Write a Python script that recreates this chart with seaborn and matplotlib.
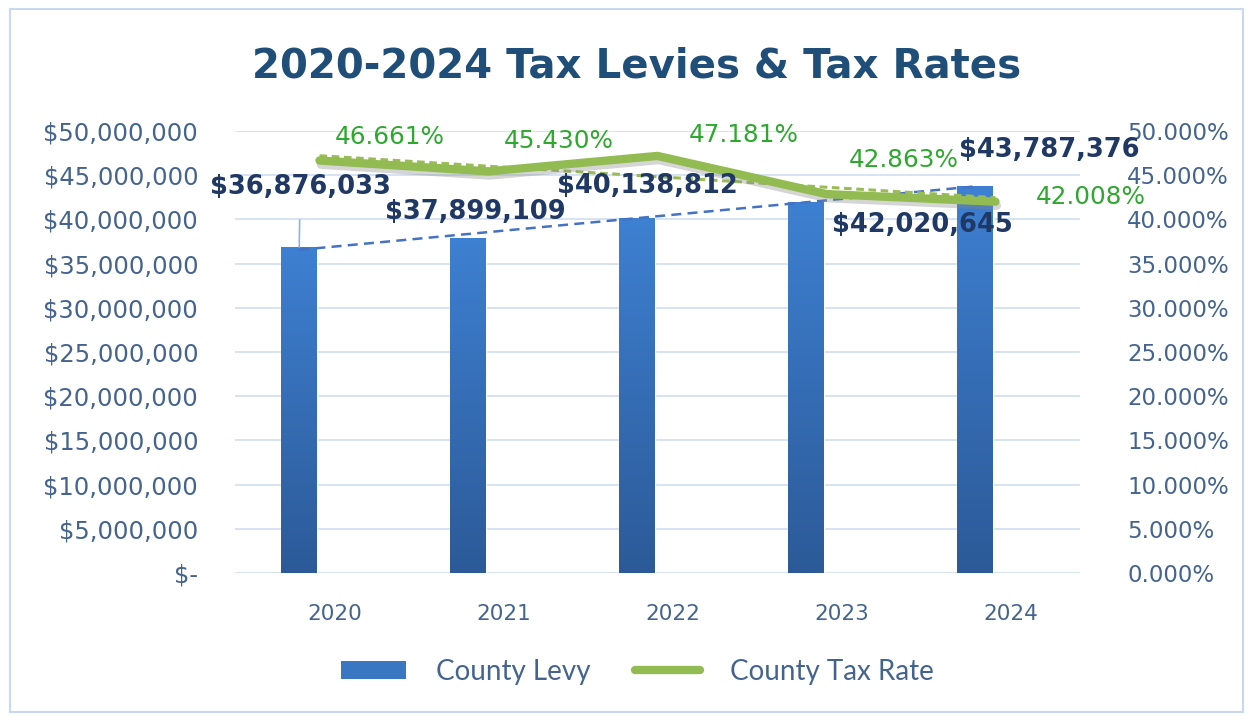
import numpy as np
import pandas as pd
import matplotlib
matplotlib.use("Agg")
import matplotlib.pyplot as plt
import matplotlib.patheffects as pe
import matplotlib.transforms as mtransforms
from matplotlib.patches import Patch, Rectangle
from matplotlib.lines import Line2D
from matplotlib.colors import LinearSegmentedColormap
import seaborn as sns

years = ["2020", "2021", "2022", "2023", "2024"]
levy = [36876033, 37899109, 40138812, 42020645, 43787376]
rate = [46.661, 45.430, 47.181, 42.863, 42.008]
levy_ticks = list(range(0, 50000001, 5000000))
rate_ticks = list(range(0, 51, 5))

sns.set_theme(style="white")
plt.rcParams["font.family"] = ["DejaVu Sans"]

TICK_C = "#44648F"
TITLE_C = "#1F4E79"
LBL_C = "#1F3864"
GREEN_T = "#2EA82E"
GREEN_L = "#92BB52"
BLUE = "#3A77C2"

fig = plt.figure(figsize=(12.5, 7.17), dpi=100)
ax = fig.add_axes([0.188, 0.2008, 0.676, 0.6165])
ax2 = ax.twinx()

idx = np.arange(len(years))
df = pd.DataFrame({"pos": idx - 0.12, "levy": levy, "year": years,
                   "x": idx, "rate": rate})

sns.barplot(data=df, x="pos", y="levy", native_scale=True, width=0.21,
            color=BLUE, saturation=1, ax=ax, zorder=3)

# gradient on bars
grad = np.linspace(0, 1, 256).reshape(-1, 1)
cmap = LinearSegmentedColormap.from_list("g", ["#2C5A98", "#3E80D2"])
for p in list(ax.patches):
    x0, y0 = p.get_x(), p.get_y()
    w, h = p.get_width(), p.get_height()
    im = ax.imshow(grad, extent=[x0, x0 + w, y0, y0 + h], origin="lower",
                   cmap=cmap, aspect="auto", zorder=3.5)
    im.set_clip_path(p)

# levy trend
c1 = np.polyfit(idx - 0.12, levy, 1)
tx = np.array([idx[0] - 0.12, idx[-1] - 0.12])
ax.plot(tx, np.polyval(c1, tx), ls=(0, (4, 2.5)), color="#4472C4", lw=1.8, zorder=4)

ax.set_xlim(-0.5, 4.5)
ax.set_ylim(0, 50000000)
ax.set_yticks(levy_ticks)
ax.set_yticklabels(["$-" if v == 0 else "${:,.0f}".format(v) for v in levy_ticks])
ax.set_xticks(idx)
ax.set_xticklabels(years)
ax.set_xlabel("")
ax.set_ylabel("")
ax.grid(axis="y", color="#D3E0F2", lw=1.3, zorder=0)
ax.set_axisbelow(True)
ax.tick_params(axis="y", labelsize=17.5, labelcolor=TICK_C, length=0, pad=26.5)
ax.tick_params(axis="x", labelsize=15.5, labelcolor=TICK_C, length=0, pad=22)
off = mtransforms.ScaledTranslation(15 / 100, 0, fig.dpi_scale_trans)
for t in ax.get_xticklabels():
    t.set_transform(t.get_transform() + off)

# rate line
sns.lineplot(data=df, x="x", y="rate", ax=ax2, color=GREEN_L, lw=6,
             solid_capstyle="round", zorder=5,
             path_effects=[pe.SimpleLineShadow(offset=(1, -3), shadow_color="#888888", alpha=0.35),
                           pe.Normal()])
c2 = np.polyfit(idx, rate, 1)
ax2.plot(idx[[0, -1]], np.polyval(c2, idx[[0, -1]]), ls=(0, (2.5, 1.5)),
         color="#9BBB59", lw=2.2, zorder=4)
ax2.set_ylim(0, 50)
ax2.set_yticks(rate_ticks)
ax2.set_yticklabels(["{:.3f}%".format(v) for v in rate_ticks])
ax2.tick_params(axis="y", labelsize=16.5, labelcolor=TICK_C, length=0, pad=34)
ax2.set_ylabel("")
ax2.set_xlabel("")
ax2.set_xlim(-0.5, 4.5)

for a in (ax, ax2):
    for s in a.spines.values():
        s.set_visible(False)

# data labels
lev_off = [(1, 60), (7, 26), (10, 32), (116, -23), (74, 36)]
for i, (v, o) in enumerate(zip(levy, lev_off)):
    kw = {}
    if i == 0:
        kw["arrowprops"] = dict(arrowstyle="-", color="#8DB3E2", lw=1.2,
                                shrinkA=12, shrinkB=0)
    ax2.annotate("${:,.0f}".format(v), xy=(i - 0.12, v / 1e6), xycoords="data",
                 xytext=o, textcoords="offset pixels", ha="center", va="center",
                 fontsize=18.5, fontweight="bold", color=LBL_C, zorder=10, **kw)
rate_off = [(70, 24), (70, 30), (86, 21), (77, 34), (95, 5)]
for i, (v, o) in enumerate(zip(rate, rate_off)):
    ax2.annotate("{:.3f}%".format(v), xy=(i, v), xycoords="data",
                 xytext=o, textcoords="offset pixels", ha="center", va="center",
                 fontsize=17.8, color=GREEN_T, zorder=10)

fig.text(0.509, 0.907, "2020-2024 Tax Levies & Tax Rates", ha="center", va="center",
         fontsize=29, fontweight="bold", color=TITLE_C)

handles = [Patch(facecolor=BLUE, edgecolor="none"),
           Line2D([0], [0], color=GREEN_L, lw=6, solid_capstyle="round")]
leg = fig.legend(handles, ["County Levy", "County Tax Rate"], loc="center",
                 bbox_to_anchor=(0.51, 0.063), ncol=2, frameon=False,
                 prop={"family": "Lato", "size": 20}, handlelength=2.35,
                 handleheight=0.65, columnspacing=1.6, handletextpad=1.08)
for t in leg.get_texts():
    t.set_color(TICK_C)

fig.patches.append(Rectangle((0.008, 0.007), 0.986, 0.981, transform=fig.transFigure,
                             fill=False, edgecolor="#C6D9F1", lw=1.5))

fig.savefig("out.png", dpi=100)
